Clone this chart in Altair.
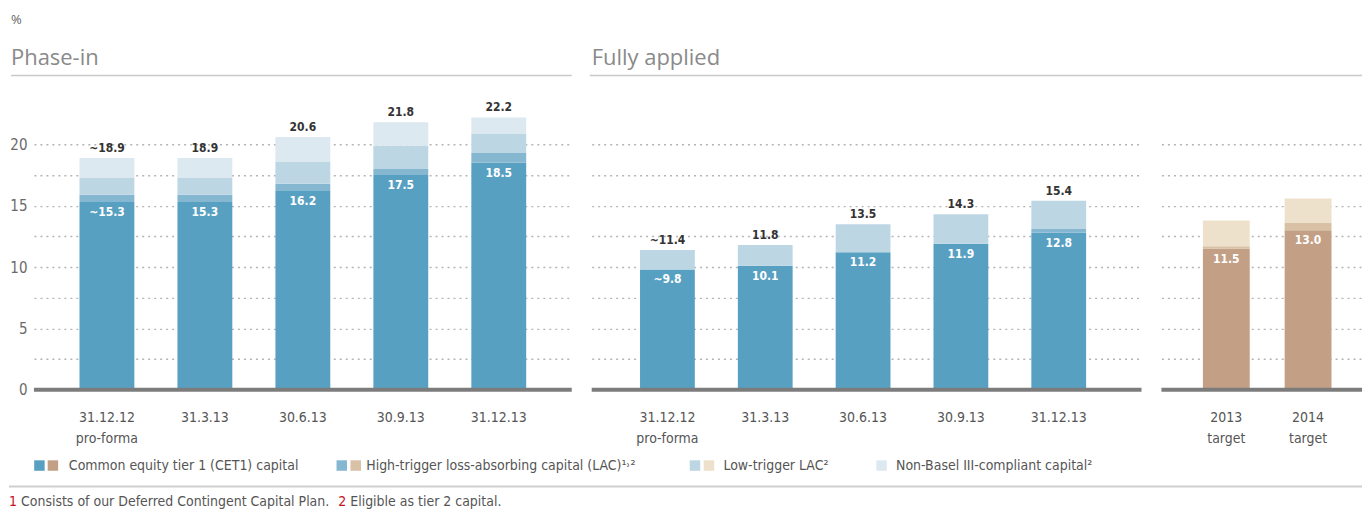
import altair as alt
import pandas as pd

# ---------------- data ----------------
phase_cats = ["31.12.12\npro-forma", "31.3.13", "30.6.13", "30.9.13", "31.12.13"]
phase_cet1 = [15.3, 15.3, 16.2, 17.5, 18.5]
phase_ht = [0.6, 0.6, 0.6, 0.5, 0.8]
phase_lt = [1.4, 1.4, 1.8, 1.9, 1.6]
phase_nb = [1.6, 1.6, 2.0, 1.9, 1.3]
phase_total_labels = ["~18.9", "18.9", "20.6", "21.8", "22.2"]
phase_cet1_labels = ["~15.3", "15.3", "16.2", "17.5", "18.5"]

full_cats = ["31.12.12\npro-forma", "31.3.13", "30.6.13", "30.9.13", "31.12.13"]
full_cet1 = [9.8, 10.1, 11.2, 11.9, 12.8]
full_ht = [0.0, 0.0, 0.0, 0.0, 0.3]
full_lt = [1.6, 1.7, 2.3, 2.4, 2.3]
full_nb = [0.0, 0.0, 0.0, 0.0, 0.0]
full_total_labels = ["~11.4", "11.8", "13.5", "14.3", "15.4"]
full_cet1_labels = ["~9.8", "10.1", "11.2", "11.9", "12.8"]

target_cats = ["2013\ntarget", "2014\ntarget"]
target_cet1 = [11.5, 13.0]
target_ht = [0.2, 0.6]
target_lt = [2.1, 2.0]
target_nb = [0.0, 0.0]
target_total_labels = ["", ""]
target_cet1_labels = ["11.5", "13.0"]

component_names = ["CET1", "HT", "LT", "NB"]
color_keys = ["CET1_b", "HT_b", "LT_b", "NB_b", "CET1_t", "HT_t", "LT_t", "NB_t"]
color_vals = ["#57a0c2", "#86b7d1", "#bcd6e4", "#dce9f0",
              "#c3a085", "#d8c1a5", "#eee1cb", "#f3ece2"]

legend_labels = ["Common equity tier 1 (CET1) capital",
                 "High-trigger loss-absorbing capital (LAC)\u00b9\u02d2\u00b2",
                 "Low-trigger LAC\u00b2",
                 "Non-Basel III-compliant capital\u00b2"]
panel_titles = ["Phase-in", "Fully applied"]
footnote_1 = "Consists of our Deferred Contingent Capital Plan."
footnote_2 = "Eligible as tier 2 capital."
unit_label = "%"

# ---------------- styles ----------------
NFONT = "Liberation Sans Narrow, DejaVu Sans Condensed, Roboto, sans-serif"
TFONT = "Open Sans, Lato, sans-serif"
H = 295
W1, W2, W3 = 539, 551, 201
GAP = 20

yscale = alt.Scale(domain=[0, 24], nice=False, zero=True)
grid_vals = [0, 2.5, 5, 7.5, 10, 12.5, 15, 17.5, 20]
color_scale = alt.Scale(domain=color_keys, range=color_vals)


def yaxis(show_labels):
    return alt.Axis(values=grid_vals, grid=True, gridDash=[2, 4], gridColor="#b4b4b4",
                    gridWidth=1.4, domain=False, ticks=False, labels=show_labels,
                    labelExpr="datum.value % 5 == 0 ? datum.label : ''",
                    labelFont=NFONT, labelFontSize=15, labelColor="#6a6a6a",
                    labelPadding=7, title=None)


one = pd.DataFrame({"v": [0]})


def panel(cats, cet1, ht, lt, nb, suffix, total_labels, cet1_labels, width,
          p_inner, p_outer, p_align, show_labels):
    rows = []
    for k, (name, vals) in enumerate(zip(component_names, [cet1, ht, lt, nb])):
        for c, v in zip(cats, vals):
            if v > 0:
                rows.append({"cat": c, "comp": name + "_" + suffix, "ord": k, "value": v})
    bars_df = pd.DataFrame(rows)
    totals = [a + b + c + d for a, b, c, d in zip(cet1, ht, lt, nb)]
    lab_df = pd.DataFrame({"cat": cats, "total": totals, "tlab": total_labels,
                           "cet1": cet1, "clab": cet1_labels})
    xs = alt.Scale(domain=cats, paddingInner=p_inner, paddingOuter=p_outer, align=p_align)
    X = alt.X("cat:N", scale=xs, sort=cats, axis=None)
    ya = yaxis(show_labels)

    bars = alt.Chart(bars_df).mark_bar().encode(
        x=X,
        y=alt.Y("value:Q", stack="zero", scale=yscale, axis=ya),
        color=alt.Color("comp:N", scale=color_scale, legend=None),
        order=alt.Order("ord:Q", sort="ascending"),
    )
    base_line = alt.Chart(one).mark_rule(color="#7c7c7c", strokeWidth=4).encode(
        y=alt.Y("v:Q", scale=yscale, axis=ya), x=alt.value(0), x2=alt.value(width))
    tot = alt.Chart(lab_df).mark_text(font=NFONT, fontSize=12, fontWeight="bold",
                                      color="#333333", baseline="bottom", dy=-3).encode(
        x=X, y=alt.Y("total:Q", scale=yscale, axis=ya), text="tlab:N")
    cl = alt.Chart(lab_df).mark_text(font=NFONT, fontSize=12, fontWeight="bold",
                                     color="white", baseline="top", dy=5).encode(
        x=X, y=alt.Y("cet1:Q", scale=yscale, axis=ya), text="clab:N")
    xl = alt.Chart(lab_df).mark_text(font=NFONT, fontSize=14, color="#555555",
                                     baseline="middle", lineBreak="\n",
                                     lineHeight=21).encode(
        x=X, y=alt.value(H + 28), text="cat:N")
    return [bars, base_line, tot, cl, xl]


p1_layers = panel(phase_cats, phase_cet1, phase_ht, phase_lt, phase_nb, "b",
                  phase_total_labels, phase_cet1_labels, W1, 0.44, 0.465, 0.5, True)
p2_layers = panel(full_cats, full_cet1, full_ht, full_lt, full_nb, "b",
                  full_total_labels, full_cet1_labels, W2, 0.44, 0.53, 0.466, False)
p3_layers = panel(target_cats, target_cet1, target_ht, target_lt, target_nb, "t",
                  target_total_labels, target_cet1_labels, W3, 0.427, 0.44, 0.576, False)

TOTAL_RIGHT = W1 + GAP + W2 + GAP + W3
LEFT = -25


def txt(text, x, y, **kw):
    return alt.Chart(one).mark_text(text=text, align="left", **kw).encode(
        x=alt.value(x), y=alt.value(y))


def hrule(x1, x2, y, color, width):
    return alt.Chart(one).mark_rule(color=color, strokeWidth=width).encode(
        x=alt.value(x1), x2=alt.value(x2), y=alt.value(y))


def square(x, y, color):
    return alt.Chart(one).mark_square(size=110, color=color, opacity=1).encode(
        x=alt.value(x), y=alt.value(y))


LEG_Y = 371
FOOT_Y = 412
deco1 = [
    txt(unit_label, LEFT + 2, -72, font=TFONT, fontSize=13, color="#666666", baseline="alphabetic"),
    txt(panel_titles[0], LEFT + 2, -30, font=TFONT, fontSize=22, color="#8a8a8a", baseline="alphabetic"),
    hrule(LEFT + 2, W1, -20, "#c9c9c9", 1.5),
    # legend
    square(5.5, LEG_Y, color_vals[0]), square(19, LEG_Y, color_vals[4]),
    txt(legend_labels[0], 35, LEG_Y, font=NFONT, fontSize=14, color="#555555", baseline="middle"),
    square(308.5, LEG_Y, color_vals[1]), square(322.5, LEG_Y, color_vals[5]),
    txt(legend_labels[1], 333, LEG_Y, font=NFONT, fontSize=14, color="#555555", baseline="middle"),
    square(662.5, LEG_Y, color_vals[2]), square(676.5, LEG_Y, color_vals[6]),
    txt(legend_labels[2], 691, LEG_Y, font=NFONT, fontSize=14, color="#555555", baseline="middle"),
    square(849.5, LEG_Y, color_vals[3]),
    txt(legend_labels[3], 864, LEG_Y, font=NFONT, fontSize=14, color="#555555", baseline="middle"),
    hrule(LEFT, TOTAL_RIGHT, 392, "#cfcfcf", 2),
    # footnotes
    txt("1", LEFT, FOOT_Y, font=NFONT, fontSize=14, color="#c4121a", baseline="alphabetic"),
    txt(footnote_1, LEFT + 12, FOOT_Y, font=NFONT, fontSize=14, color="#555555", baseline="alphabetic"),
    txt("2", 305, FOOT_Y, font=NFONT, fontSize=14, color="#c4121a", baseline="alphabetic"),
    txt(footnote_2, 317, FOOT_Y, font=NFONT, fontSize=14, color="#555555", baseline="alphabetic"),
]

deco2 = [
    txt(panel_titles[1], 0, -30, font=TFONT, fontSize=22, color="#8a8a8a", baseline="alphabetic"),
    hrule(-2, W2 + GAP + W3, -20, "#c9c9c9", 1.5),
]

p1 = alt.layer(*p1_layers, *deco1).properties(width=W1, height=H)
p2 = alt.layer(*p2_layers, *deco2).properties(width=W2, height=H)
p3 = alt.layer(*p3_layers).properties(width=W3, height=H)

chart = alt.hconcat(p1, p2, p3, spacing=GAP, bounds="flush").properties(
    padding={"top": 5, "left": 0, "right": 0, "bottom": 0},
    background="white",
).configure_view(stroke=None)

chart.save("out.html", embed_options={"renderer": "svg", "actions": False})
